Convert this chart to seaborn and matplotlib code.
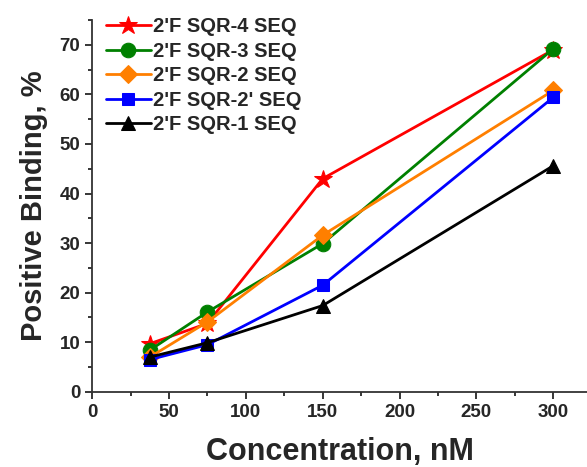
import numpy as np
import pandas as pd
import matplotlib
matplotlib.use("Agg")
import matplotlib.pyplot as plt
import seaborn as sns
from matplotlib.ticker import MultipleLocator

# Data
concentration = [37.5, 75, 150, 300]
sqr4 = [9.7, 13.8, 43.0, 69.0]
sqr3 = [8.4, 16.1, 29.9, 69.2]
sqr2 = [7.0, 14.1, 31.6, 60.8]
sqr2p = [6.5, 9.5, 21.5, 59.4]
sqr1 = [7.0, 9.9, 17.4, 45.6]

labels = ["2'F SQR-4 SEQ", "2'F SQR-3 SEQ", "2'F SQR-2 SEQ", "2'F SQR-2' SEQ", "2'F SQR-1 SEQ"]
series = [sqr4, sqr3, sqr2, sqr2p, sqr1]
colors = ["#ff0000", "#008000", "#ff7f00", "#0000ff", "#000000"]
markers = ["*", "o", "D", "s", "^"]
msizes = [13.5, 10.5, 9.5, 9, 10.5]

df = pd.DataFrame({
    "Concentration": concentration * len(labels),
    "Binding": sum(series, []),
    "Sample": [l for l in labels for _ in concentration],
})

sns.set_style("ticks")
plt.rcParams['font.family'] = ['Liberation Sans', 'DejaVu Sans']
plt.rcParams['font.weight'] = 'bold'

fig = plt.figure(figsize=(5.87, 4.67), dpi=100)
ax = fig.add_axes([0.157, 0.161, 0.843, 0.796])

for lab, col, mk, ms in zip(labels, colors, markers, msizes):
    sub = df[df["Sample"] == lab]
    sns.lineplot(data=sub, x="Concentration", y="Binding", ax=ax, color=col,
                 marker=mk, markersize=ms, markeredgecolor=col, linewidth=2,
                 label=lab)

ax.set_xlim(0, 322)
ax.set_ylim(0, 75)
ax.xaxis.set_major_locator(MultipleLocator(50))
ax.xaxis.set_minor_locator(MultipleLocator(25))
ax.yaxis.set_major_locator(MultipleLocator(10))
ax.yaxis.set_minor_locator(MultipleLocator(5))
ax.tick_params(which='major', direction='out', length=5, width=1.3, labelsize=13.5)
ax.tick_params(which='minor', direction='out', length=3, width=1.3)
for lbl in ax.get_xticklabels() + ax.get_yticklabels():
    lbl.set_fontweight('bold')

sns.despine(ax=ax)
for s in ['left', 'bottom']:
    ax.spines[s].set_linewidth(1.3)
    ax.spines[s].set_color('#333333')

ax.set_xlabel("Concentration, nM", fontsize=22, fontweight='bold', labelpad=12)
ax.set_ylabel("Positive Binding, %", fontsize=21, fontweight='bold', labelpad=8)

leg = ax.legend(loc='upper left', bbox_to_anchor=(0.0, 1.045), frameon=False,
                prop={'size': 14.5, 'weight': 'bold'}, handlelength=2.2,
                labelspacing=0.27, handletextpad=0.1, borderaxespad=0.3)

fig.savefig("out.png", dpi=100)
